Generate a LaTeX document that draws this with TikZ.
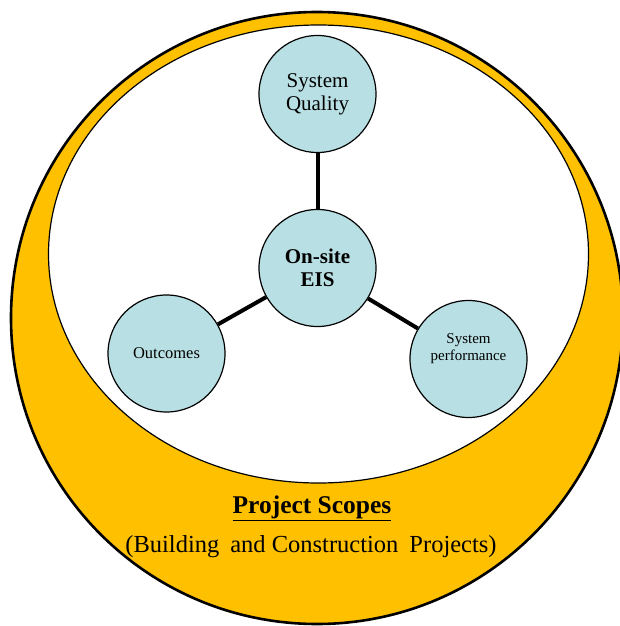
\documentclass[tikz,border=0pt]{standalone}
\usepackage{fontspec}
\setmainfont{Liberation Serif}
\definecolor{scopegold}{HTML}{FFC000}
\definecolor{bubble}{HTML}{B8DFE3}
\begin{document}
\begin{tikzpicture}[x=1pt,y=-1pt,
  bubblenode/.style={circle, draw=black, line width=1.2pt, fill=bubble,
    minimum size=117pt, inner sep=0pt, align=center},
  spoke/.style={line width=4pt, black}]
\useasboundingbox (0,0) rectangle (620,626);
\clip (0,0) rectangle (620,626);
\fill[white] (0,0) rectangle (620,626);

% project scope ring and the inner field
\draw[fill=scopegold, line width=2.6pt] (317,318) circle [radius=306];
\draw[fill=white, line width=1.2pt] (318.5,254) ellipse [x radius=270, y radius=229];

% evaluation components
\node[bubblenode, font=\fontsize{21}{23}\selectfont] (quality) at (317.5,94) {System\\Quality};
\node[bubblenode, font=\fontsize{21}{23}\selectfont\bfseries] (eis) at (317.5,268) {On-site\\EIS};
\node[bubblenode, font=\fontsize{16.5}{18}\selectfont] (outcomes) at (166.5,353.5) {Outcomes};
\node[bubblenode, font=\fontsize{15}{17}\selectfont] (perf) at (468.5,359) {System\\performance\\[6pt]};

\draw[spoke] (eis) -- (quality);
\draw[spoke] (eis) -- (outcomes);
\draw[spoke] (eis) -- (perf);

% scope captions
\node[anchor=base, font=\fontsize{25.5}{27}\selectfont\bfseries, inner sep=0pt] (scope) at (312,513)
  {\underline{Project Scopes}};
\node[anchor=base, font=\fontsize{24.5}{26}\selectfont, inner sep=0pt] (scopesub) at (311,552)
  {(Building\hspace{0.45em}and Construction\hspace{0.45em}Projects)};
\end{tikzpicture}
\end{document}
